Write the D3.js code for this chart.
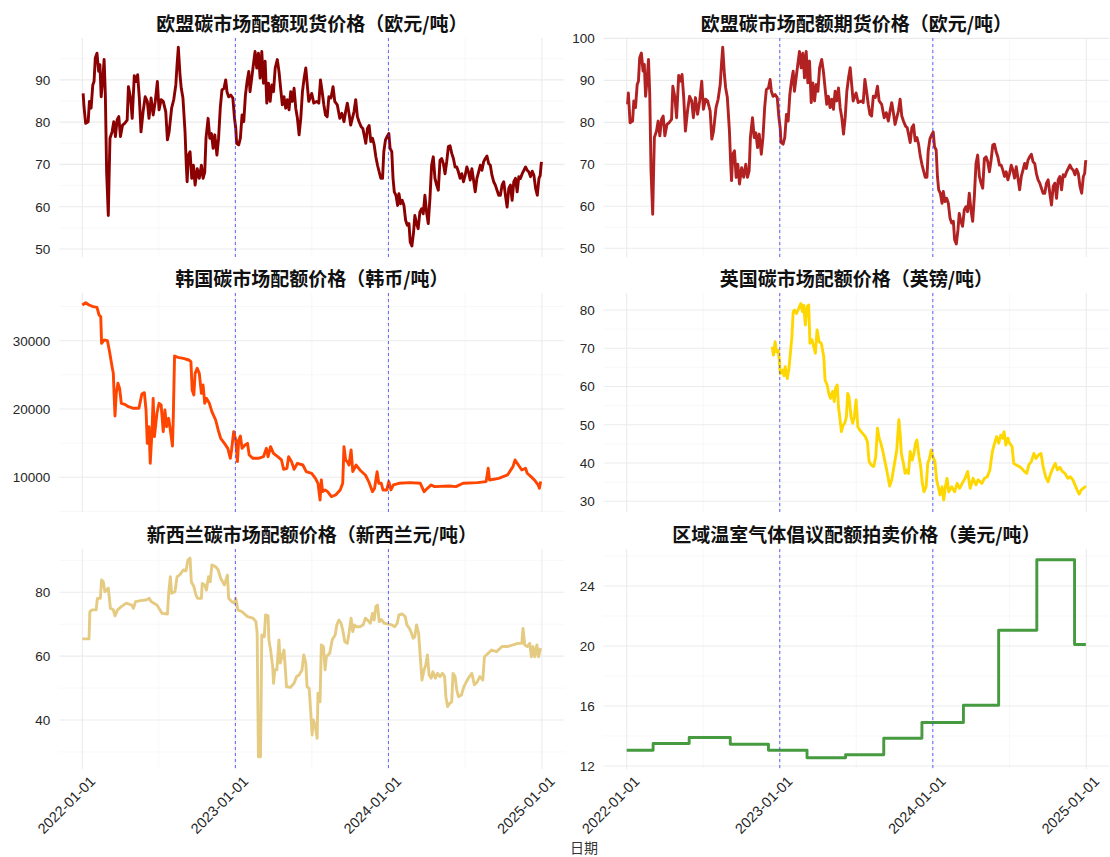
<!DOCTYPE html>
<html><head><meta charset="utf-8">
<script src="https://cdn.jsdelivr.net/npm/d3@7/dist/d3.min.js"></script>
<style>body{margin:0;background:#fff}svg{display:block}</style>
</head><body>
<svg id="chart" width="1110" height="857"></svg>
<script>
// ---------------- DATA ----------------
// EU allowances: [date, spot (EUR/t), futures (EUR/t)]
const euData = [
["2022-01-03",86.8,84.3],["2022-01-05",83.7,87.0],["2022-01-09",79.7,79.9],["2022-01-15",80.1,80.3],["2022-01-18",84.9,85.1],["2022-01-22",83.3,83.5],["2022-01-26",88.8,89.0],["2022-01-29",89.6,89.8],["2022-02-01",95.2,95.4],["2022-02-05",96.3,96.5],["2022-02-09",92.0,92.2],["2022-02-12",93.6,93.8],["2022-02-15",86.0,86.2],["2022-02-19",90.4,90.6],["2022-02-22",94.8,95.0],["2022-02-25",86.4,86.6],["2022-02-28",68.2,68.4],["2022-03-04",57.9,58.1],["2022-03-06",67.4,67.6],["2022-03-08",76.2,76.4],["2022-03-13",77.7,77.9],["2022-03-17",80.1,80.3],["2022-03-21",76.6,76.8],["2022-03-25",80.5,80.7],["2022-03-29",81.3,81.5],["2022-04-02",76.6,76.8],["2022-04-07",79.3,79.5],["2022-04-12",79.7,79.9],["2022-04-18",80.5,80.7],["2022-04-21",88.4,88.6],["2022-04-26",85.7,85.9],["2022-04-30",80.9,81.1],["2022-05-05",91.0,91.2],["2022-05-09",89.6,89.8],["2022-05-13",91.2,91.4],["2022-05-17",85.7,85.9],["2022-05-21",77.7,77.9],["2022-05-26",82.5,82.7],["2022-05-31",86.0,86.2],["2022-06-05",84.9,85.1],["2022-06-09",80.9,81.1],["2022-06-14",85.7,85.9],["2022-06-19",81.7,81.9],["2022-06-24",84.9,85.1],["2022-06-29",89.6,89.8],["2022-07-03",82.9,83.1],["2022-07-08",85.3,85.5],["2022-07-13",84.9,85.1],["2022-07-19",82.5,82.7],["2022-07-23",75.8,76.0],["2022-07-27",77.7,77.9],["2022-08-02",83.3,83.5],["2022-08-07",85.3,85.5],["2022-08-12",88.8,89.0],["2022-08-15",93.6,93.8],["2022-08-18",97.7,97.9],["2022-08-22",91.2,91.4],["2022-08-25",88.0,88.2],["2022-08-29",85.7,85.9],["2022-09-03",77.7,77.9],["2022-09-06",69.8,70.0],["2022-09-08",65.9,66.1],["2022-09-11",72.2,72.4],["2022-09-15",73.0,73.2],["2022-09-19",66.7,66.9],["2022-09-23",69.8,70.0],["2022-09-27",65.1,65.3],["2022-10-02",69.0,69.2],["2022-10-07",66.7,66.9],["2022-10-12",69.8,70.0],["2022-10-16",66.7,66.9],["2022-10-20",68.2,68.4],["2022-10-23",76.2,76.4],["2022-10-28",80.9,81.1],["2022-11-01",76.2,76.4],["2022-11-05",77.3,77.5],["2022-11-09",73.8,74.0],["2022-11-13",77.0,77.2],["2022-11-18",72.2,72.4],["2022-11-22",76.2,76.4],["2022-11-26",83.3,83.5],["2022-11-30",87.6,87.8],["2022-12-05",88.0,88.2],["2022-12-09",90.0,90.2],["2022-12-12",87.2,87.4],["2022-12-16",86.0,86.2],["2022-12-21",86.4,86.6],["2022-12-26",85.7,85.9],["2022-12-30",80.9,81.1],
["2023-01-02",78.5,78.7],["2023-01-04",75.0,75.2],["2023-01-09",74.6,74.8],["2023-01-13",76.2,76.4],["2023-01-17",81.7,81.9],["2023-01-21",80.1,80.3],["2023-01-25",86.4,86.6],["2023-01-29",89.6,89.8],["2023-02-02",92.0,92.2],["2023-02-05",87.2,87.4],["2023-02-09",90.4,90.6],["2023-02-13",93.6,93.8],["2023-02-17",96.7,96.9],["2023-02-21",92.8,93.0],["2023-02-25",96.3,96.5],["2023-03-01",90.4,90.6],["2023-03-05",96.7,96.9],["2023-03-09",89.2,89.4],["2023-03-13",94.4,94.6],["2023-03-17",84.5,84.7],["2023-03-21",89.2,89.4],["2023-03-25",84.9,85.1],["2023-03-29",88.8,89.0],["2023-04-02",87.2,87.4],["2023-04-06",92.8,93.0],["2023-04-11",94.8,95.0],["2023-04-15",92.0,92.2],["2023-04-19",88.0,88.2],["2023-04-23",84.1,84.3],["2023-04-27",86.0,86.2],["2023-05-01",83.3,83.5],["2023-05-05",85.3,85.5],["2023-05-09",82.9,83.1],["2023-05-13",87.2,87.4],["2023-05-17",84.9,85.1],["2023-05-21",88.0,88.2],["2023-05-25",83.3,83.5],["2023-05-29",80.9,81.1],["2023-06-02",77.0,77.2],["2023-06-06",80.9,81.1],["2023-06-10",87.2,87.4],["2023-06-14",90.4,90.6],["2023-06-18",92.8,93.0],["2023-06-25",84.9,85.1],["2023-07-02",86.8,87.0],["2023-07-07",84.5,84.7],["2023-07-14",84.9,85.1],["2023-07-19",84.5,84.7],["2023-07-23",90.0,90.2],["2023-07-27",87.2,87.4],["2023-07-31",84.1,84.3],["2023-08-04",81.7,81.9],["2023-08-08",81.3,81.5],["2023-08-12",86.0,86.2],["2023-08-17",85.7,85.9],["2023-08-22",88.4,88.6],["2023-08-26",84.9,85.1],["2023-09-01",84.1,84.3],["2023-09-07",80.9,81.1],["2023-09-12",82.1,82.3],["2023-09-17",80.1,80.3],["2023-09-21",82.5,82.7],["2023-09-25",84.5,84.7],["2023-09-29",82.1,82.3],["2023-10-03",79.3,79.5],["2023-10-07",80.9,81.1],["2023-10-11",82.5,82.7],["2023-10-15",85.3,85.5],["2023-10-19",81.3,81.5],["2023-10-23",80.1,80.3],["2023-10-28",78.9,79.1],["2023-11-01",78.5,78.7],["2023-11-04",77.0,77.2],["2023-11-08",75.0,75.2],["2023-11-12",78.5,78.7],["2023-11-16",79.2,79.4],["2023-11-20",75.4,75.6],["2023-11-24",76.2,76.4],["2023-11-28",74.6,74.8],["2023-12-02",71.8,72.0],["2023-12-06",69.8,70.0],["2023-12-10",68.2,68.4],["2023-12-14",66.7,66.9],["2023-12-18",66.7,66.9],["2023-12-21",73.0,73.2],["2023-12-25",75.8,76.0],["2023-12-29",76.6,77.0],
["2024-01-02",77.3,77.7],["2024-01-05",73.8,74.2],["2024-01-09",73.0,73.4],["2024-01-12",66.7,67.1],["2024-01-15",63.5,63.9],["2024-01-19",62.7,63.1],["2024-01-23",60.3,60.7],["2024-01-26",63.1,63.5],["2024-01-30",60.7,61.1],["2024-02-03",61.5,61.9],["2024-02-07",60.3,60.7],["2024-02-11",56.8,57.2],["2024-02-15",55.6,56.0],["2024-02-19",56.0,56.4],["2024-02-22",51.6,52.0],["2024-02-26",50.7,51.0],["2024-03-01",54.0,54.4],["2024-03-04",57.9,58.3],["2024-03-08",56.0,56.4],["2024-03-12",54.8,55.2],["2024-03-16",58.7,59.1],["2024-03-20",59.5,59.9],["2024-03-24",58.3,58.7],["2024-03-28",62.7,63.1],["2024-04-01",58.7,59.1],["2024-04-05",56.0,56.4],["2024-04-09",61.9,62.3],["2024-04-13",69.8,70.2],["2024-04-17",71.8,72.2],["2024-04-21",66.7,67.1],["2024-04-25",65.1,65.5],["2024-04-29",63.9,64.3],["2024-05-03",71.0,71.4],["2024-05-07",71.4,71.8],["2024-05-11",70.2,70.6],["2024-05-15",67.8,68.2],["2024-05-19",70.6,71.0],["2024-05-23",74.2,74.6],["2024-05-27",74.4,74.8],["2024-05-31",72.6,73.0],["2024-06-04",71.4,71.8],["2024-06-08",69.4,69.8],["2024-06-12",69.4,69.8],["2024-06-16",68.2,68.6],["2024-06-20",66.7,67.1],["2024-06-24",67.8,68.2],["2024-06-28",65.9,66.3],["2024-07-02",67.4,67.8],["2024-07-06",69.4,69.8],["2024-07-10",68.2,68.6],["2024-07-14",66.3,66.7],["2024-07-18",69.0,69.4],["2024-07-22",66.3,66.7],["2024-07-26",63.5,63.9],["2024-07-30",66.7,67.1],["2024-08-03",68.2,68.6],["2024-08-07",69.8,70.2],["2024-08-11",68.6,69.0],["2024-08-15",70.6,71.0],["2024-08-19",71.4,71.8],["2024-08-23",72.0,72.4],["2024-08-27",70.2,70.6],["2024-08-31",69.8,70.2],["2024-09-04",67.4,67.8],["2024-09-08",65.9,66.3],["2024-09-12",65.1,65.5],["2024-09-16",63.9,64.3],["2024-09-20",62.7,63.1],["2024-09-24",62.7,63.1],["2024-09-28",65.1,65.5],["2024-10-02",65.9,66.3],["2024-10-06",62.7,63.1],["2024-10-10",59.9,60.3],["2024-10-14",64.3,64.7],["2024-10-18",65.1,65.5],["2024-10-22",61.5,61.9],["2024-10-26",65.9,66.3],["2024-10-30",66.7,67.1],["2024-11-03",63.5,63.9],["2024-11-07",67.1,67.5],["2024-11-11",66.7,67.1],["2024-11-15",67.8,68.2],["2024-11-19",68.6,69.0],["2024-11-23",69.4,69.8],["2024-11-27",68.6,69.0],["2024-12-01",68.2,68.6],["2024-12-05",67.1,67.5],["2024-12-09",68.4,68.8],["2024-12-13",67.4,67.8],["2024-12-17",64.3,64.7],["2024-12-21",62.7,63.1],["2024-12-25",66.7,67.1],["2024-12-28",67.4,67.8],["2024-12-30",69.8,70.2],["2024-12-31",70.6,71.0]
];

// Korea KAU (KRW/t)
const krData = [
["2022-01-01",35220],["2022-01-09",35560],["2022-01-17",35220],["2022-01-27",34980],["2022-02-05",34880],["2022-02-10",33760],["2022-02-14",33510],["2022-02-16",29610],["2022-02-22",30100],["2022-03-02",30000],["2022-03-07",28390],["2022-03-13",26190],["2022-03-16",25220],["2022-03-18",21800],["2022-03-20",18970],["2022-03-23",22290],["2022-03-27",23760],["2022-03-31",23020],["2022-04-04",20830],["2022-04-12",20680],["2022-04-21",20340],["2022-05-03",20100],["2022-05-16",20100],["2022-05-23",22200],["2022-05-29",22390],["2022-06-02",19850],["2022-06-05",14970],["2022-06-09",17410],["2022-06-12",12050],["2022-06-16",16440],["2022-06-19",21560],["2022-06-22",15950],["2022-06-28",19370],["2022-07-03",20830],["2022-07-08",20590],["2022-07-13",16680],["2022-07-17",19850],["2022-07-21",17410],["2022-07-26",18630],["2022-07-31",16440],["2022-08-04",14580],["2022-08-06",18880],["2022-08-09",27760],["2022-08-17",27560],["2022-08-30",27410],["2022-09-12",27170],["2022-09-17",26930],["2022-09-20",22780],["2022-09-24",22050],["2022-09-27",25220],["2022-10-02",25950],["2022-10-07",25220],["2022-10-12",22290],["2022-10-16",23510],["2022-10-20",20830],["2022-10-24",21560],["2022-10-31",20830],["2022-11-06",19610],["2022-11-15",18390],["2022-11-21",16930],["2022-11-27",15710],["2022-12-06",14970],["2022-12-14",14240],["2022-12-20",12780],["2022-12-23",14000],["2022-12-28",16680],
["2023-01-02",15460],["2023-01-06",12290],["2023-01-09",15460],["2023-01-13",16050],["2023-01-17",14240],["2023-01-24",14730],["2023-01-30",14970],["2023-02-03",13270],["2023-02-12",12780],["2023-02-25",12780],["2023-03-09",13020],["2023-03-16",14240],["2023-03-20",13020],["2023-03-26",14490],["2023-04-02",13510],["2023-04-12",13020],["2023-04-21",12540],["2023-04-26",11170],["2023-05-04",11320],["2023-05-08",13020],["2023-05-15",12290],["2023-05-21",11170],["2023-05-29",12050],["2023-06-11",11800],["2023-06-19",10830],["2023-07-02",10590],["2023-07-11",9850],["2023-07-17",9120],["2023-07-22",6680],["2023-07-25",9610],["2023-07-28",7900],["2023-08-03",8150],["2023-08-09",7900],["2023-08-18",7170],["2023-08-28",7410],["2023-09-08",8150],["2023-09-14",9120],["2023-09-17",14490],["2023-09-21",12540],["2023-09-25",12290],["2023-09-29",11800],["2023-10-04",14000],["2023-10-08",10830],["2023-10-16",11800],["2023-10-25",11070],["2023-11-07",10340],["2023-11-15",9370],["2023-11-24",7900],["2023-11-29",8390],["2023-12-05",10830],["2023-12-09",9120],["2023-12-15",9120],["2023-12-19",8150],["2023-12-28",8150],
["2024-01-02",9370],["2024-01-07",8150],["2024-01-13",8880],["2024-01-26",9120],["2024-02-21",9220],["2024-03-17",9120],["2024-03-26",7900],["2024-04-03",8390],["2024-04-12",8880],["2024-04-20",8630],["2024-05-24",8730],["2024-06-10",8630],["2024-06-27",9120],["2024-07-31",9220],["2024-08-21",9370],["2024-08-26",11320],["2024-08-29",9610],["2024-09-20",9850],["2024-10-11",10340],["2024-10-24",11560],["2024-10-29",12540],["2024-11-06",11800],["2024-11-14",11070],["2024-11-23",11320],["2024-11-27",10590],["2024-12-06",10100],["2024-12-14",9610],["2024-12-23",8880],["2024-12-26",8390],["2024-12-29",9370]
];

// UK ETS (GBP/t)
const ukData = [
["2022-12-14",70.4],["2022-12-17",68.2],["2022-12-21",71.7],["2022-12-24",69.1],["2022-12-28",69.5],["2022-12-31",66.9],["2023-01-02",63.4],["2023-01-08",64.3],["2023-01-11",62.8],["2023-01-14",65.2],["2023-01-19",62.1],["2023-01-23",64.8],["2023-01-27",69.5],["2023-01-30",73.0],["2023-02-02",79.6],["2023-02-05",80.0],["2023-02-10",79.1],["2023-02-15",80.4],["2023-02-20",81.7],["2023-02-24",79.6],["2023-02-27",81.3],["2023-03-03",76.1],["2023-03-07",80.9],["2023-03-11",81.3],["2023-03-14",71.3],["2023-03-19",72.2],["2023-03-23",70.4],["2023-03-27",68.7],["2023-03-31",74.8],["2023-04-05",71.7],["2023-04-10",71.3],["2023-04-16",67.8],["2023-04-19",61.7],["2023-04-24",60.4],["2023-04-28",58.2],["2023-05-02",56.9],["2023-05-07",58.7],["2023-05-11",56.1],["2023-05-14",59.5],["2023-05-18",60.4],["2023-05-21",54.7],["2023-05-24",52.1],["2023-05-28",48.2],["2023-06-01",49.9],["2023-06-05",50.4],["2023-06-09",52.1],["2023-06-12",58.2],["2023-06-15",57.4],["2023-06-20",52.1],["2023-06-24",50.4],["2023-06-28",52.1],["2023-07-02",56.5],["2023-07-06",49.5],["2023-07-11",48.6],["2023-07-17",47.8],["2023-07-24",46.9],["2023-07-29",45.6],["2023-08-02",40.4],["2023-08-07",39.5],["2023-08-13",39.1],["2023-08-18",41.7],["2023-08-22",49.1],["2023-08-26",46.5],["2023-08-30",45.2],["2023-09-04",43.0],["2023-09-08",40.8],["2023-09-13",38.2],["2023-09-16",36.4],["2023-09-20",34.0],["2023-09-25",35.6],["2023-09-29",38.2],["2023-10-03",40.8],["2023-10-07",43.4],["2023-10-12",51.3],["2023-10-15",47.8],["2023-10-18",42.5],["2023-10-23",39.9],["2023-10-27",37.3],["2023-10-31",38.2],["2023-11-04",37.3],["2023-11-08",43.0],["2023-11-13",40.8],["2023-11-17",42.5],["2023-11-21",45.2],["2023-11-24",46.0],["2023-11-29",41.7],["2023-12-03",39.1],["2023-12-07",34.7],["2023-12-11",32.5],["2023-12-16",33.8],["2023-12-20",39.9],["2023-12-24",41.2],["2023-12-28",43.4],
["2024-01-01",41.7],["2024-01-06",40.4],["2024-01-10",35.6],["2024-01-14",33.8],["2024-01-18",31.7],["2024-01-23",33.8],["2024-01-27",30.3],["2024-01-31",33.8],["2024-02-04",36.0],["2024-02-08",32.5],["2024-02-15",33.8],["2024-02-22",32.5],["2024-02-28",34.7],["2024-03-05",33.4],["2024-03-11",34.7],["2024-03-18",36.0],["2024-03-24",37.8],["2024-03-30",33.4],["2024-04-06",36.0],["2024-04-13",34.3],["2024-04-18",35.6],["2024-04-27",34.7],["2024-05-03",36.0],["2024-05-10",36.4],["2024-05-16",38.2],["2024-05-22",43.0],["2024-05-26",44.7],["2024-06-01",46.9],["2024-06-06",45.2],["2024-06-11",47.3],["2024-06-15",46.5],["2024-06-19",48.2],["2024-06-23",44.7],["2024-06-28",46.5],["2024-07-02",45.2],["2024-07-08",44.3],["2024-07-12",39.9],["2024-07-18",39.5],["2024-07-25",39.1],["2024-07-31",38.6],["2024-08-06",37.8],["2024-08-12",37.3],["2024-08-17",39.5],["2024-08-23",40.4],["2024-08-29",42.5],["2024-09-03",41.2],["2024-09-09",42.1],["2024-09-15",42.5],["2024-09-20",39.1],["2024-09-26",36.4],["2024-10-02",35.1],["2024-10-07",36.9],["2024-10-13",38.6],["2024-10-19",39.9],["2024-10-24",38.2],["2024-10-30",38.9],["2024-11-05",37.8],["2024-11-11",37.3],["2024-11-18",36.0],["2024-11-24",36.4],["2024-11-30",35.6],["2024-12-05",34.3],["2024-12-10",33.0],["2024-12-15",31.9],["2024-12-20",33.0],["2024-12-25",33.4],["2024-12-31",34.0]
];

// New Zealand NZU (NZD/t)
const nzData = [
["2022-01-01",65.4],["2022-01-17",65.4],["2022-01-19",73.9],["2022-01-24",74.5],["2022-02-03",74.5],["2022-02-06",78.1],["2022-02-13",78.1],["2022-02-16",83.9],["2022-02-20",83.3],["2022-02-24",80.2],["2022-02-28",80.7],["2022-03-04",81.3],["2022-03-09",75.0],["2022-03-16",74.5],["2022-03-20",72.6],["2022-03-26",74.5],["2022-04-04",75.5],["2022-04-16",76.6],["2022-04-29",76.0],["2022-05-03",75.0],["2022-05-08",77.1],["2022-05-20",77.4],["2022-06-02",77.6],["2022-06-10",78.1],["2022-06-14",77.1],["2022-06-28",76.0],["2022-07-10",73.4],["2022-07-23",73.2],["2022-07-26",79.7],["2022-07-30",84.9],["2022-08-02",79.7],["2022-08-10",80.2],["2022-08-15",84.9],["2022-08-21",85.4],["2022-08-30",87.0],["2022-09-05",86.7],["2022-09-10",90.1],["2022-09-15",90.7],["2022-09-18",83.3],["2022-09-24",81.8],["2022-09-29",79.2],["2022-10-03",78.1],["2022-10-12",78.1],["2022-10-14",82.8],["2022-10-20",82.3],["2022-10-24",80.7],["2022-10-29",84.9],["2022-11-02",83.3],["2022-11-06",88.6],["2022-11-15",88.0],["2022-11-21",87.0],["2022-11-27",84.4],["2022-12-06",82.3],["2022-12-13",85.4],["2022-12-16",78.1],["2022-12-23",77.1],["2022-12-30",76.6],
["2023-01-02",78.1],["2023-01-07",74.5],["2023-01-17",73.9],["2023-01-30",72.4],["2023-02-12",71.9],["2023-02-19",70.8],["2023-02-22",67.2],["2023-02-25",28.5],["2023-03-02",28.5],["2023-03-05",66.6],["2023-03-11",66.1],["2023-03-14",72.9],["2023-03-20",72.6],["2023-03-22",65.1],["2023-03-26",61.9],["2023-03-31",56.7],["2023-04-02",51.5],["2023-04-05",55.7],["2023-04-10",55.7],["2023-04-15",65.1],["2023-04-18",57.8],["2023-04-22",59.8],["2023-04-27",61.9],["2023-04-29",58.3],["2023-05-03",50.4],["2023-05-12",50.2],["2023-05-21",51.5],["2023-05-27",53.6],["2023-06-02",54.1],["2023-06-09",55.7],["2023-06-13",60.4],["2023-06-18",57.8],["2023-06-21",50.4],["2023-06-26",49.9],["2023-06-30",42.1],["2023-07-03",35.3],["2023-07-06",40.0],["2023-07-11",37.9],["2023-07-15",34.3],["2023-07-17",48.4],["2023-07-22",45.7],["2023-07-25",63.5],["2023-07-30",63.0],["2023-08-03",55.7],["2023-08-06",59.8],["2023-08-14",60.9],["2023-08-20",65.1],["2023-08-27",66.6],["2023-08-31",69.8],["2023-09-05",71.3],["2023-09-10",70.3],["2023-09-14",68.2],["2023-09-19",64.5],["2023-09-25",64.0],["2023-09-29",67.2],["2023-10-04",71.9],["2023-10-08",67.7],["2023-10-12",69.8],["2023-10-16",69.2],["2023-10-25",69.2],["2023-11-02",69.8],["2023-11-07",71.9],["2023-11-12",71.3],["2023-11-19",70.3],["2023-11-24",73.4],["2023-11-28",71.3],["2023-12-02",75.5],["2023-12-06",76.0],["2023-12-10",70.8],["2023-12-15",71.5],["2023-12-22",70.3],["2023-12-31",70.1],
["2024-01-09",69.8],["2024-01-16",69.2],["2024-01-22",70.3],["2024-01-26",72.9],["2024-02-03",73.2],["2024-02-10",72.4],["2024-02-14",69.8],["2024-02-20",68.7],["2024-02-25",67.2],["2024-02-29",65.6],["2024-03-04",66.1],["2024-03-08",69.8],["2024-03-13",67.2],["2024-03-17",59.8],["2024-03-21",52.5],["2024-03-26",55.7],["2024-03-30",57.2],["2024-04-03",60.4],["2024-04-07",54.1],["2024-04-12",53.1],["2024-04-16",55.1],["2024-04-22",53.1],["2024-04-27",54.6],["2024-05-03",53.6],["2024-05-09",54.6],["2024-05-14",53.6],["2024-05-17",47.3],["2024-05-21",44.2],["2024-05-26",45.2],["2024-05-31",45.7],["2024-06-03",54.6],["2024-06-08",53.6],["2024-06-12",49.4],["2024-06-16",47.3],["2024-06-23",47.8],["2024-06-29",50.4],["2024-07-05",52.0],["2024-07-12",53.6],["2024-07-18",54.6],["2024-07-24",51.0],["2024-07-31",52.0],["2024-08-06",53.6],["2024-08-13",52.5],["2024-08-17",59.8],["2024-08-26",60.9],["2024-09-03",61.9],["2024-09-15",61.4],["2024-09-28",63.0],["2024-10-11",63.0],["2024-10-24",63.5],["2024-11-05",64.0],["2024-11-14",64.0],["2024-11-17",68.7],["2024-11-21",63.5],["2024-11-27",63.0],["2024-12-03",64.0],["2024-12-07",59.8],["2024-12-11",63.0],["2024-12-15",59.8],["2024-12-20",63.5],["2024-12-24",59.8],["2024-12-29",62.5]
];

// RGGI auction clearing prices (USD/t), held until next auction
const rggiDates  = ["2022-01-01","2022-03-05","2022-05-30","2022-09-05","2022-12-05","2023-03-07","2023-06-07","2023-09-06","2023-12-06","2024-03-14","2024-06-06","2024-09-05","2024-12-04","2024-12-31"];
const rggiValues = [13.05,13.5,13.9,13.45,13.05,12.55,12.75,13.85,14.9,16.05,21.05,25.75,20.1,20.1];

// Tick labels
const euSpotTicks = [50,60,70,80,90];
const euFutTicks  = [50,60,70,80,90,100];
const krTicks     = [10000,20000,30000];
const ukTicks     = [30,40,50,60,70,80];
const nzTicks     = [40,60,80];
const rggiTicks   = [12,16,20,24];
const xTickLabels = ["2022-01-01","2023-01-01","2024-01-01","2025-01-01"];
const markerDates = ["2023-01-01","2024-01-01"];

// ---------------- DRAWING ----------------
const parse = d3.timeParse("%Y-%m-%d");
const svg = d3.select("#chart");
const cols = [{x0:59.3, x1:564.5, r0:82.3, r1:541.9},{x0:603.7, x1:1109, r0:626.7, r1:1086.3}];
const rows = [{y0:38, y1:257},{y0:293, y1:512},{y0:549, y1:769}];

const panels = [
  {title:"欧盟碳市场配额现货价格（欧元/吨）", col:0,row:0, data: euData.map(d=>({date:parse(d[0]),v:d[1]})), color:"#8B0000", dom:[48.1,99.9], ticks:euSpotTicks},
  {title:"欧盟碳市场配额期货价格（欧元/吨）", col:1,row:0, data: euData.map(d=>({date:parse(d[0]),v:d[2]})), color:"#B22222", dom:[47.9,100.1], ticks:euFutTicks},
  {title:"韩国碳市场配额价格（韩币/吨）", col:0,row:1, data: krData.map(d=>({date:parse(d[0]),v:d[1]})), color:"#FF4500", dom:[4920,36980], ticks:krTicks},
  {title:"英国碳市场配额价格（英镑/吨）", col:1,row:1, data: ukData.map(d=>({date:parse(d[0]),v:d[1]})), color:"#FFD700", dom:[27.2,84.45], ticks:ukTicks},
  {title:"新西兰碳市场配额价格（新西兰元/吨）", col:0,row:2, data: nzData.map(d=>({date:parse(d[0]),v:d[1]})), color:"#E5CB82", dom:[24.65,93.56], ticks:nzTicks},
  {title:"区域温室气体倡议配额拍卖价格（美元/吨）", col:1,row:2, data: rggiDates.map((d,i)=>({date:parse(d),v:rggiValues[i]})), color:"#469A40", dom:[11.8,26.47], ticks:rggiTicks, step:true}
];

panels.forEach(p => {
  const c = cols[p.col], r = rows[p.row];
  const x = d3.scaleTime().domain([parse("2022-01-01"), parse("2025-01-01")]).range([c.r0, c.r1]);
  const y = d3.scaleLinear().domain(p.dom).range([r.y1, r.y0]);
  const g = svg.append("g");

  const step = p.ticks[1] - p.ticks[0];
  const minorY = [];
  for (let i = -1; i < p.ticks.length; i++) {
    const m = p.ticks[0] + step * (i + 0.5);
    if (m >= p.dom[0] && m <= p.dom[1]) minorY.push(m);
  }
  const majorX = xTickLabels.map(parse);
  const minorX = majorX.slice(0, -1).map((d, i) => new Date((+d + +majorX[i+1]) / 2));

  g.selectAll(".mny").data(minorY).join("line")
    .attr("x1", c.x0).attr("x2", c.x1).attr("y1", d=>y(d)).attr("y2", d=>y(d))
    .attr("stroke", "#F3F3F3").attr("stroke-width", 0.6);
  g.selectAll(".mnx").data(minorX).join("line")
    .attr("x1", d=>x(d)).attr("x2", d=>x(d)).attr("y1", r.y0).attr("y2", r.y1)
    .attr("stroke", "#F3F3F3").attr("stroke-width", 0.6);
  g.selectAll(".mjy").data(p.ticks).join("line")
    .attr("x1", c.x0).attr("x2", c.x1).attr("y1", d=>y(d)).attr("y2", d=>y(d))
    .attr("stroke", "#EBEBEB").attr("stroke-width", 1.1);
  g.selectAll(".mjx").data(majorX).join("line")
    .attr("x1", d=>x(d)).attr("x2", d=>x(d)).attr("y1", r.y0).attr("y2", r.y1)
    .attr("stroke", "#EBEBEB").attr("stroke-width", 1.1);

  const yAxis = d3.axisLeft(y).tickValues(p.ticks).tickSize(0).tickPadding(9).tickFormat(d3.format("d"));
  const ya = g.append("g").attr("transform", `translate(${c.x0},0)`).call(yAxis);
  ya.select(".domain").remove();
  ya.selectAll("text").attr("fill", "#262626").style("font-family", "'Liberation Sans', Arial, sans-serif").style("font-size", "13.5px");

  const line = d3.line().x(d=>x(d.date)).y(d=>y(d.v)).curve(p.step ? d3.curveStepAfter : d3.curveLinear);
  g.append("path").datum(p.data).attr("d", line)
    .attr("fill", "none").attr("stroke", p.color).attr("stroke-width", 2.9)
    .attr("stroke-linejoin", "round").attr("stroke-linecap", "butt");

  g.selectAll(".vl").data(markerDates.map(parse)).join("line")
    .attr("x1", d=>x(d)).attr("x2", d=>x(d)).attr("y1", r.y0).attr("y2", r.y1)
    .attr("stroke", "#3333ff").attr("stroke-opacity", 0.75).attr("stroke-width", 1).attr("stroke-dasharray", "3,3");

  svg.append("text").attr("x", (c.x0 + c.x1) / 2).attr("y", r.y0 - 7.5)
    .attr("text-anchor", "middle").attr("fill", "#111")
    .style("font-family", "'Noto Sans CJK SC', sans-serif").style("font-weight", "700").style("font-size", "19px")
    .text(p.title);

  if (p.row === 2) {
    const xAxis = d3.axisBottom(x).tickValues(majorX).tickSize(0).tickFormat(d3.timeFormat("%Y-%m-%d"));
    const xa = g.append("g").attr("transform", `translate(0,${r.y1})`).call(xAxis);
    xa.select(".domain").remove();
    xa.selectAll("text")
      .attr("y", 0).attr("dy", "0.71em")
      .attr("transform", "translate(6,6) rotate(-45)")
      .attr("text-anchor", "end").attr("fill", "#262626")
      .style("font-family", "'Liberation Sans', Arial, sans-serif").style("font-size", "14.5px");
  }
});

svg.append("text").attr("x", 584).attr("y", 853).attr("text-anchor", "middle").attr("fill", "#333")
  .style("font-family", "'Noto Sans CJK SC', sans-serif").style("font-size", "14px").text("日期");
</script>
</body></html>
